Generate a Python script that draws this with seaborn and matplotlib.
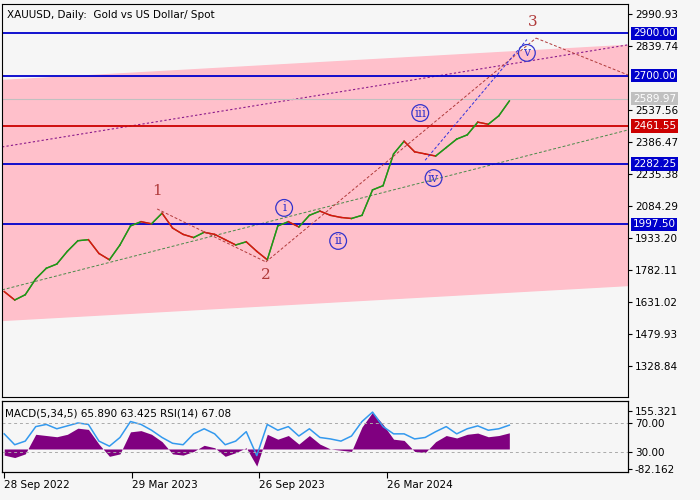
import numpy as np
import pandas as pd
import matplotlib
matplotlib.use("Agg")
import matplotlib.pyplot as plt
import seaborn as sns

dates = pd.date_range("2022-09-28", periods=49, freq="15D")
closes = [1680,1640,1665,1740,1790,1810,1870,1920,1925,1860,1830,1900,1990,2010,2000,2050,
          1980,1950,1935,1960,1950,1925,1900,1915,1870,1830,1990,2010,1985,2040,2060,2040,
          2030,2025,2040,2160,2180,2330,2390,2340,2330,2320,2360,2400,2420,2480,2470,2510,2580]
macd = [-25,-35,-20,60,55,50,60,85,80,20,-30,-20,70,75,60,30,-20,-25,-10,15,5,-30,-15,5,
        -70,60,40,55,20,55,20,0,-5,-10,90,150,100,40,35,-10,-15,30,55,45,60,65,50,55,66]
rsi = [55,40,45,65,68,62,66,70,68,45,38,50,72,68,60,50,42,40,55,62,55,40,45,58,
       25,68,60,65,52,62,50,48,45,52,72,85,65,55,55,48,50,58,65,55,62,66,60,62,67]

levels_blue = [2900.00, 2700.00, 2282.25, 1997.50]
level_red = 2461.55
level_now = 2589.97
price_ticks = [2990.93, 2839.74, 2537.56, 2386.47, 2235.38, 2084.29, 1933.20, 1782.11,
               1631.02, 1479.93, 1328.84]
xtick_dates = ["2022-09-28", "2023-03-29", "2023-09-26", "2024-03-26"]
xtick_labels = ["28 Sep 2022", "29 Mar 2023", "26 Sep 2023", "26 Mar 2024"]
waves = [("1", "2023-05-04", 2155, "#b03a3a"), ("2", "2023-10-06", 1759, "#b03a3a"),
         ("3", "2024-10-20", 2953, "#b03a3a")]
subwaves = [("i", "2023-11-01", 2075), ("ii", "2024-01-17", 1919), ("iii", "2024-05-13", 2523),
            ("iv", "2024-06-01", 2216), ("v", "2024-10-12", 2807)]

df = pd.DataFrame({"date": dates, "close": closes})
bg = "#f6f6f6"
fig = plt.figure(figsize=(7, 5), dpi=100, facecolor=bg)
ax = fig.add_axes([0.003, 0.206, 0.894, 0.786], facecolor=bg)
ax2 = fig.add_axes([0.003, 0.056, 0.894, 0.142], facecolor=bg)

x0 = pd.Timestamp("2022-09-25"); x1 = pd.Timestamp("2025-03-05")
ax.set_xlim(x0, x1); ax2.set_xlim(x0, x1)
ax.set_ylim(1182, 3038)

ax.fill_between([x0, x1], [1546, 1711], [2679, 2845], color="#ffc0cb", zorder=0)
ax.plot([x0, x1], [2363, 2845], ls=(0, (2, 2)), color="#8b1a8b", lw=0.8)
ax.plot([x0, x1], [1688, 2443], ls=(0, (3, 2)), color="#4a8a4a", lw=0.7)

for lv in levels_blue:
    ax.axhline(lv, color="#0000cc", lw=1.3)
ax.axhline(level_red, color="#cc0000", lw=1.3)
ax.axhline(level_now, color="#c0c0c0", lw=0.8)

sns.lineplot(data=df, x="date", y="close", ax=ax, color="#6b7a20", lw=1.0)
for i in range(1, len(df)):
    c = "#1a9a1a" if closes[i] >= closes[i - 1] else "#dd1111"
    ax.plot(dates[i - 1:i + 1], closes[i - 1:i + 1], color=c, lw=1.0)

wx = [pd.Timestamp(d) for _, d, _, _ in waves]
ax.plot([wx[0], wx[1]], [2070, 1820], ls=(0, (3, 2)), color="#b03a3a", lw=0.7)
ax.plot([wx[1], pd.Timestamp("2024-10-25")], [1820, 2877], ls=(0, (3, 2)), color="#b03a3a", lw=0.7)
ax.plot([pd.Timestamp("2024-10-25"), x1], [2877, 2703], ls=(0, (3, 2)), color="#b03a3a", lw=0.7)
ax.plot([pd.Timestamp("2024-05-20"), pd.Timestamp("2024-10-12")], [2300, 2870],
        ls=(0, (3, 2)), color="#3030dd", lw=0.7)
for t, d, p, c in waves:
    ax.text(pd.Timestamp(d), p, t, color=c, fontsize=11, ha="center", va="center",
            fontfamily="DejaVu Serif")
for t, d, p in subwaves:
    ax.text(pd.Timestamp(d), p, t, color="#3333cc", fontsize=9, ha="center", va="center",
            fontfamily="DejaVu Serif",
            bbox=dict(boxstyle="circle,pad=0.15", fc="none", ec="#3333cc", lw=0.9))

ax.text(0.008, 0.985, "XAUUSD, Daily:  Gold vs US Dollar/ Spot", transform=ax.transAxes,
        fontsize=7.5, va="top", ha="left")

ax.yaxis.tick_right()
ax.set_yticks(price_ticks)
ax.set_yticklabels([f"{v:.2f}" for v in price_ticks], fontsize=7.5)
ax.tick_params(axis="y", length=3, pad=2)
ax.set_xticks([]); ax.set_xlabel(""); ax.set_ylabel("")
for lv, fc in [(2900.00, "#0000cc"), (2700.00, "#0000cc"), (2282.25, "#0000cc"),
               (1997.50, "#0000cc"), (level_red, "#cc0000"), (level_now, "#c0c0c0")]:
    ax.text(1.008, lv, f"{lv:.2f}", transform=ax.get_yaxis_transform(), fontsize=7.5,
            color="white", va="center", ha="left",
            bbox=dict(boxstyle="square,pad=0.15", fc=fc, ec="none"))
for s in ax.spines.values():
    s.set_color("black"); s.set_linewidth(0.8)

# indicator
ax2.fill_between(dates, 0, macd, color="#800080", lw=0)
ax2.set_ylim(-94, 196)
ax3 = ax2.twinx()
ax2.yaxis.tick_right()
ax2.set_yticks([155.321, -82.162]); ax2.set_yticklabels(["155.321", "-82.162"], fontsize=7.5)
ax2.tick_params(axis="y", left=False, labelleft=False, right=True, labelright=True, length=3, pad=2)
ax3.set_ylim(2.4, 100.3)
ax3.plot(dates, rsi, color="#3399ee", lw=1.1)
for v in (70, 30):
    ax3.axhline(v, color="#aaaaaa", ls=(0, (3, 3)), lw=0.7)
ax3.set_yticks([70, 30]); ax3.set_yticklabels(["70.00", "30.00"], fontsize=7.5)
ax3.tick_params(axis="y", length=3, pad=2)
ax3.set_xlim(x0, x1)
ax2.set_xticks([pd.Timestamp(d) for d in xtick_dates])
ax2.set_xticklabels(xtick_labels, fontsize=7.5, ha="left")
ax2.tick_params(axis="x", length=4, pad=2)
ax2.text(0.005, 0.9, "MACD(5,34,5) 65.890 63.425 RSI(14) 67.08", transform=ax2.transAxes,
         fontsize=7.5, va="top", ha="left")
for a in (ax2, ax3):
    for s in a.spines.values():
        s.set_color("black"); s.set_linewidth(0.8)

fig.savefig("out.png", dpi=100, facecolor=bg)
